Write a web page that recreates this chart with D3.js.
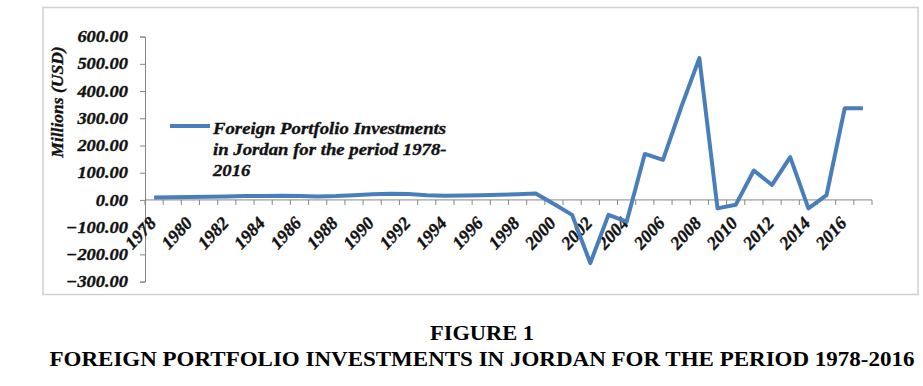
<!DOCTYPE html>
<html>
<head>
<meta charset="utf-8">
<script src="https://cdn.jsdelivr.net/npm/d3@7"></script>
<style>
  body { margin: 0; background: #fff; }
  svg text { font-family: "Liberation Serif", "Times New Roman", serif; }
  svg text.heavy { stroke: #111; stroke-width: 0.35px; }
</style>
</head>
<body>
<svg id="chart" width="923" height="386"></svg>
<script>
// years 1978 - 2017
const years = d3.range(1978, 2018);
const fpi = [9, 10, 11, 12, 13, 14, 14, 15, 14, 13,
             14, 17, 21, 23, 22, 17, 15, 16, 17, 19,
             21, 24, -15, -55, -232, -55, -80, 169, 147, 340,
             521, -31, -18, 108, 55, 157, -31, 18, 337, 337];
const yTicks = [-300, -200, -100, 0, 100, 200, 300, 400, 500, 600];
const xLabels = d3.range(1978, 2017, 2);
const legendLines = ["Foreign Portfolio Investments", "in Jordan for the period 1978-", "2016"];
const titleLines = ["FIGURE 1", "FOREIGN PORTFOLIO INVESTMENTS IN JORDAN FOR THE PERIOD 1978-2016"];

const svg = d3.select("#chart");
const lineColor = "#4a7ebb";

// widen text a bit, the original looks stretched sideways
function stretch(sel, k) {
    sel.each(function() {
        const w = this.getComputedTextLength();
        d3.select(this).attr("textLength", w * k).attr("lengthAdjust", "spacingAndGlyphs");
    });
}

// chart frame
svg.append("rect").attr("x", 43).attr("y", 7.5).attr("width", 875).attr("height", 287)
    .attr("fill", "#fff").attr("stroke", "#d0d0d0").attr("stroke-width", 1.5);

const x = d3.scaleBand().domain(years).range([145, 872]);
const y = d3.scaleLinear().domain([-300, 600]).range([281.6, 36.6]);

// y axis
const yAxis = svg.append("g").attr("transform", "translate(145,0)")
    .call(d3.axisLeft(y).tickValues(yTicks).tickSize(5).tickFormat(d3.format(".2f")));
yAxis.select(".domain").attr("stroke", "#868686");
yAxis.selectAll(".tick line").attr("stroke", "#868686");
yAxis.selectAll(".tick text").attr("x", -17).attr("class", "heavy")
    .style("font-size", "16px").style("font-weight", "bold").style("font-style", "italic")
    .attr("fill", "#111");
stretch(yAxis.selectAll(".tick text"), 1.15);

// x axis at zero
const xAxis = svg.append("g").attr("transform", "translate(0," + y(0) + ")");
xAxis.append("line").attr("x1", 145).attr("x2", 872).attr("stroke", "#868686");
xAxis.selectAll(".xt").data(d3.range(years.length + 1)).enter().append("line")
    .attr("x1", i => 145 + i * x.step()).attr("x2", i => 145 + i * x.step())
    .attr("y1", 0).attr("y2", 5).attr("stroke", "#868686");
xAxis.selectAll(".xl").data(xLabels).enter().append("text").attr("class", "heavy")
    .attr("transform", d => "translate(" + (x(d) + x.bandwidth() / 2 + 3) + ",24) rotate(-47)")
    .attr("text-anchor", "end")
    .style("font-size", "18px").style("font-weight", "bold").style("font-style", "italic")
    .attr("fill", "#111").text(d => d);

// y axis title
svg.append("text").attr("class", "heavy").attr("transform", "translate(63,102) rotate(-90)")
    .attr("text-anchor", "middle")
    .style("font-size", "17.5px").style("font-weight", "bold").style("font-style", "italic")
    .attr("fill", "#111").text("Millions (USD)");

// series line
const line = d3.line().x((d, i) => x(years[i]) + x.bandwidth() / 2).y(d => y(d));
svg.append("path").datum(fpi).attr("d", line).attr("fill", "none")
    .attr("stroke", lineColor).attr("stroke-width", 4).attr("stroke-linejoin", "round");

// legend
svg.append("line").attr("x1", 170).attr("x2", 210).attr("y1", 126).attr("y2", 126)
    .attr("stroke", lineColor).attr("stroke-width", 4);
const leg = svg.selectAll(".leg").data(legendLines).enter().append("text").attr("class", "heavy")
    .attr("x", 213).attr("y", (d, i) => 134 + i * 21)
    .style("font-size", "17.5px").style("font-weight", "bold").style("font-style", "italic")
    .attr("fill", "#111").text(d => d);
stretch(leg, 1.07);

// figure caption
svg.selectAll(".ttl").data(titleLines).enter().append("text")
    .attr("x", 482).attr("y", (d, i) => 340 + i * 26)
    .attr("text-anchor", "middle")
    .style("font-size", "20px").style("font-weight", "bold")
    .attr("fill", "#000")
    .attr("textLength", (d, i) => i === 0 ? 104 : 865).attr("lengthAdjust", "spacingAndGlyphs")
    .text(d => d);
</script>
</body>
</html>
